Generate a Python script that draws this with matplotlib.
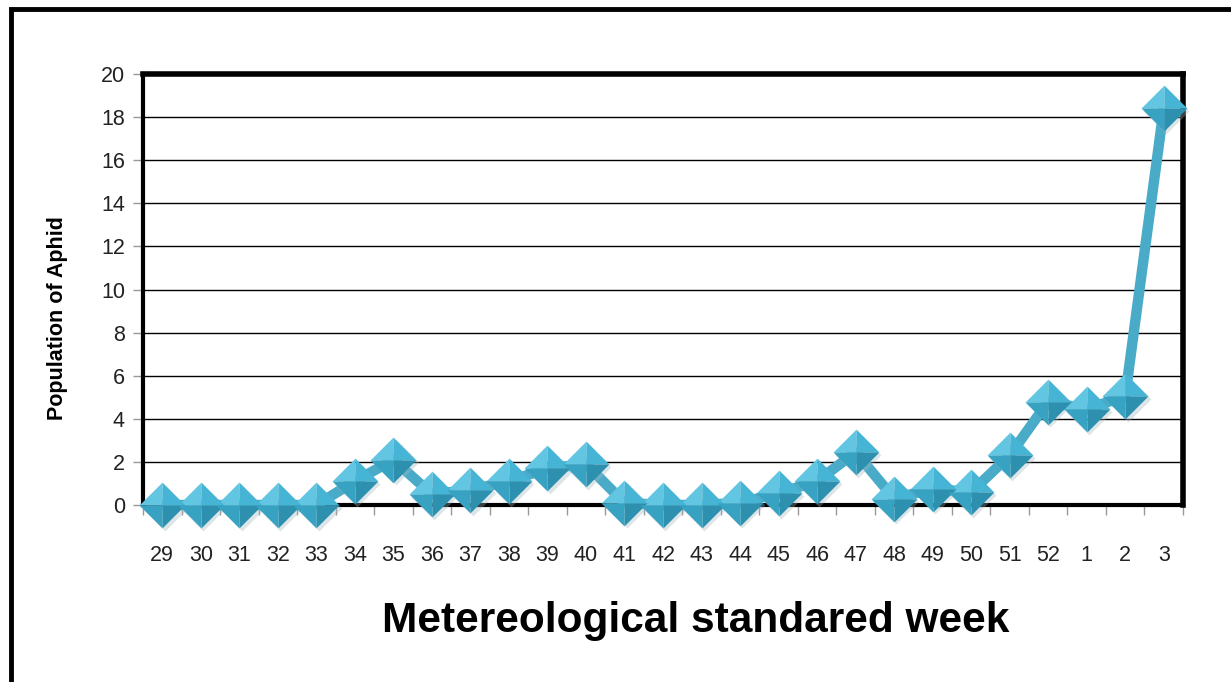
import matplotlib
matplotlib.use('Agg')
import matplotlib.pyplot as plt
import numpy as np
from matplotlib.path import Path
from matplotlib.patches import Rectangle

# data
weeks = ['29', '30', '31', '32', '33', '34', '35', '36', '37', '38', '39', '40', '41',
         '42', '43', '44', '45', '46', '47', '48', '49', '50', '51', '52', '1', '2', '3']
population = [0, 0, 0, 0, 0, 1.1, 2.1, 0.5, 0.7, 1.1, 1.7, 1.9, 0.1,
              0, 0, 0.1, 0.55, 1.1, 2.45, 0.3, 0.75, 0.6, 2.3, 4.8, 4.45, 5.05, 18.4]
yticks = [0, 2, 4, 6, 8, 10, 12, 14, 16, 18, 20]

W, H = 1231, 682
fig = plt.figure(figsize=(W / 100, H / 100), dpi=100)
ax = fig.add_axes([143 / W, 1 - 505 / H, (1183 - 143) / W, (505 - 74) / H])

x = np.arange(len(weeks))
line_col = '#4AABC8'
ax.plot(x, population, '-', color=line_col, lw=7.5, solid_capstyle='butt',
        zorder=3, clip_on=False)

# beveled diamond markers: four facets with different shades
facets = [
    ([(0, 0), (-1, 0), (0, 1), (0, 0)], '#62C6E2'),
    ([(0, 0), (0, 1), (1, 0), (0, 0)], '#46B4D4'),
    ([(0, 0), (1, 0), (0, -1), (0, 0)], '#2C90AE'),
    ([(0, 0), (0, -1), (-1, 0), (0, 0)], '#37A2C1'),
]
ms = 33
# soft shadow
shadow = Path([(-1, 0), (0, 1), (1, 0), (0, -1), (-1, 0)])
ax.plot(x + 0.06, np.array(population) - 0.12, ls='none', marker=shadow, ms=ms,
        mfc='#9fb7bf', mec='none', alpha=0.35, zorder=4, clip_on=False)
for verts, col in facets:
    ax.plot(x, population, ls='none', marker=Path(verts), ms=ms, mfc=col,
            mec='none', zorder=5, clip_on=False)

ax.set_xlim(-0.5, len(weeks) - 0.5)
ax.set_ylim(0, 20)
ax.set_yticks(yticks)
ax.set_yticklabels([str(v) for v in yticks], fontsize=15.5, family='Liberation Sans',
                   color='#222222')
ax.set_xticks(x)
ax.set_xticklabels(weeks, fontsize=15.5, family='Liberation Sans', color='#222222')
ax.set_xticks(np.arange(-0.5, len(weeks)), minor=True)
ax.tick_params(axis='x', which='major', length=0, pad=29)
ax.tick_params(axis='x', which='minor', length=7, color='#999999', width=1)
ax.tick_params(axis='y', length=7, color='#999999', width=1, pad=6)

ax.grid(axis='y', color='black', lw=1)
ax.set_axisbelow(True)
for side in ['top', 'right']:
    ax.spines[side].set_linewidth(4)
ax.spines['bottom'].set_linewidth(3)
ax.spines['left'].set_linewidth(3)
for side in ax.spines:
    ax.spines[side].set_zorder(2)

fig.text(57 / W, 1 - 318 / H, 'Population of Aphid', rotation=90, ha='center',
         va='center', fontsize=15.5, fontweight='bold', family='Liberation Sans')
fig.text(0.565, 1 - 621 / H, 'Metereological standared week', ha='center', va='center',
         fontsize=30.5, fontweight='bold', family='Liberation Sans')

# outer frame (only top and left visible in the crop)
fig.patches.append(Rectangle((11 / W, -0.1), 1.2, 1 - 9 / H + 0.1,
                             transform=fig.transFigure, fill=False,
                             ec='black', lw=3.5, clip_on=False))

fig.savefig('out.png', dpi=100)
